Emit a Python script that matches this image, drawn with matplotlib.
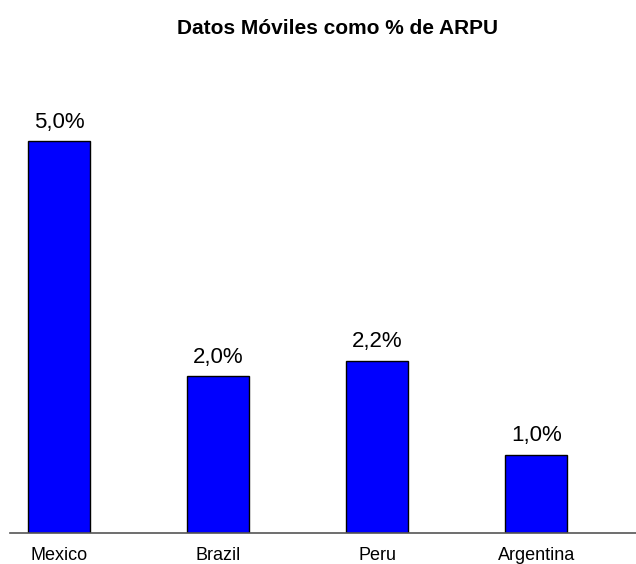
import matplotlib.pyplot as plt

plt.rcParams['font.family'] = ['Liberation Sans', 'DejaVu Sans']

paises = ['Mexico', 'Brazil', 'Peru', 'Argentina']
valores = [5.0, 2.0, 2.2, 1.0]
etiquetas = ['5,0%', '2,0%', '2,2%', '1,0%']

W, H = 636, 564
fig = plt.figure(figsize=(W / 100, H / 100), dpi=100)

# axes: left edge at x=10px, baseline at y=533px, top at y=63px
ax = fig.add_axes([10 / W, (H - 533) / H, 1 - 10 / W, (533 - 63) / H])

x = range(len(paises))
ax.bar(x, valores, width=0.39, color='#0000FF', edgecolor='black', linewidth=1.0)
ax.set_xlim(-0.311, 3.626)
ax.set_ylim(0, 6.0)

for xi, v, t in zip(x, valores, etiquetas):
	ax.annotate(t, (xi, v), xytext=(0, 6), textcoords='offset points',
		ha='center', va='bottom', fontsize=16)

for s in ['top', 'right', 'left']:
	ax.spines[s].set_visible(False)
ax.spines['bottom'].set_color('#555555')
ax.spines['bottom'].set_linewidth(1.2)
ax.set_yticks([])
ax.set_xticks(list(x))
ax.set_xticklabels(paises, fontsize=13)
ax.tick_params(axis='x', length=0, pad=10)

fig.text(337 / W, 1 - 28 / H, 'Datos Móviles como % de ARPU', ha='center', va='center',
	fontsize=15, fontweight='bold')

fig.savefig('out.png', dpi=100)
